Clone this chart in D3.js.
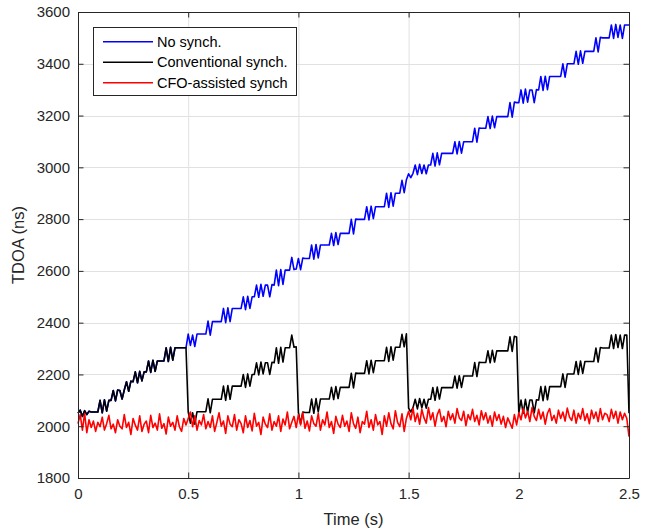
<!DOCTYPE html>
<html>
<head>
<meta charset="utf-8">
<script src="https://cdn.jsdelivr.net/npm/d3@7/dist/d3.min.js"></script>
<style>
  html, body { margin: 0; padding: 0; background: #fff; }
  svg { display: block; }
  text { font-family: "Liberation Sans", Arial, Helvetica, sans-serif; }
</style>
</head>
<body>
<svg id="chart" width="659" height="529"></svg>
<script>
// ---- data (sampled every 0.01 s, t = 0 ... 2.50) ----
const sampleStep = 0.01;

// "No synch." TDOA (ns)
const noSynch = [
  2050, 2062, 2038, 2060, 2045, 2058, 2055, 2055, 2055, 2055,
  2100, 2052, 2102, 2058, 2100, 2100, 2138, 2098, 2140, 2138,
  2105, 2140, 2172, 2135, 2174, 2172, 2210, 2168, 2212, 2175,
  2210, 2210, 2252, 2208, 2255, 2212, 2252, 2252, 2252, 2252,
  2303, 2250, 2305, 2255, 2303, 2303, 2303, 2303, 2303, 2303,
  2356, 2312, 2352, 2308, 2356, 2356, 2356, 2356, 2356, 2406,
  2352, 2404, 2404, 2404, 2404, 2404, 2455, 2400, 2457, 2404,
  2455, 2455, 2455, 2455, 2455, 2500, 2450, 2502, 2455, 2500,
  2500, 2545, 2498, 2548, 2502, 2545, 2545, 2500, 2547, 2545,
  2603, 2543, 2605, 2548, 2603, 2603, 2603, 2652, 2605, 2607,
  2648, 2605, 2650, 2648, 2648, 2648, 2700, 2645, 2702, 2650,
  2700, 2700, 2700, 2700, 2700, 2745, 2698, 2748, 2702, 2745,
  2745, 2745, 2745, 2745, 2799, 2743, 2800, 2799, 2799, 2799,
  2799, 2848, 2797, 2850, 2802, 2848, 2848, 2848, 2848, 2848,
  2900, 2845, 2902, 2850, 2900, 2900, 2900, 2950, 2902, 2952,
  2975, 2960, 2977, 3009, 2972, 3012, 2976, 3009, 2975, 3009,
  3009, 3054, 3005, 3056, 3010, 3054, 3054, 3054, 3054, 3054,
  3054, 3099, 3052, 3100, 3055, 3099, 3099, 3099, 3099, 3099,
  3151, 3097, 3152, 3151, 3151, 3151, 3196, 3150, 3198, 3153,
  3196, 3196, 3196, 3196, 3196, 3196, 3250, 3194, 3252, 3250,
  3250, 3299, 3248, 3302, 3252, 3299, 3299, 3250, 3300, 3299,
  3351, 3297, 3352, 3300, 3351, 3351, 3351, 3351, 3351, 3351,
  3400, 3348, 3400, 3400, 3400, 3400, 3448, 3398, 3450, 3402,
  3448, 3448, 3448, 3448, 3448, 3500, 3446, 3502, 3500, 3500,
  3500, 3500, 3550, 3498, 3552, 3502, 3550, 3498, 3550, 3550,
  3550
];

// Conventional synch: resynchronised every 0.5 s; accumulated offset removed at each resync
const resyncPeriod = 0.5;
const resyncOffsets = [0, 300, 595, 905, 1198, 1500];

// "CFO-assisted synch" TDOA (ns)
const cfoSynch = [
  2010, 2045, 1985, 2050, 1975, 2025, 1995, 2020, 1980, 2015,
  1998, 2035, 1985, 2010, 2042, 1990, 2008, 1975, 2025, 2000,
  1990, 2045, 1995, 2015, 1968, 2030, 2004, 1985, 2040, 1980,
  2008, 2020, 1975, 2042, 1995, 2012, 1985, 2048, 1992, 2010,
  1970, 2035, 2000, 2015, 1985, 2040, 1998, 1980, 2030, 2005,
  2030, 2055, 1998, 2040, 1985, 2022, 2005, 2045, 1990, 2018,
  1995, 2040, 1980, 2015, 2052, 2000, 2020, 1972, 2040, 2008,
  1998, 2045, 1985, 2025, 2010, 1975, 2040, 1995, 2022, 1982,
  2050, 2000, 2015, 1968, 2035, 2008, 1995, 2048, 1985, 2018,
  2000, 2040, 1980, 2028, 2005, 2055, 1990, 2015, 2038, 1995,
  2045, 2005, 2052, 1992, 2020, 1982, 2040, 2010, 2000, 2050,
  1985, 2025, 2005, 2055, 1995, 2018, 1972, 2038, 2008, 1995,
  2042, 2000, 2020, 1980, 2052, 2010, 1992, 2035, 1975, 2018,
  2008, 2058, 1995, 2025, 1985, 2045, 2005, 2018, 1968, 2040,
  2000, 2052, 2010, 1990, 2060, 2015, 1998, 2048, 1980, 2030,
  2058, 2025, 2070, 2018, 2050, 2008, 2065, 2032, 2012, 2072,
  2025, 2052, 2000, 2045, 2065, 2018, 2038, 1998, 2058, 2025,
  2048, 2012, 2068, 2032, 2022, 2058, 2002, 2045, 2025, 2065,
  2018, 2042, 2005, 2060, 2025, 2052, 2012, 2040, 2000, 2055,
  2022, 2045, 2008, 2038, 1995, 2032, 2012, 1992, 2045, 2005,
  2052, 2025, 2068, 2032, 2058, 2018, 2072, 2038, 2022, 2065,
  2028, 2055, 2008, 2050, 2068, 2022, 2042, 2012, 2062, 2030,
  2055, 2020, 2070, 2035, 2022, 2062, 2012, 2050, 2028, 2068,
  2022, 2048, 2010, 2062, 2030, 2055, 2018, 2068, 2025, 2050,
  2045, 2018, 2065, 2030, 2058, 2012, 2055, 2025, 2050, 2030,
  1960
];

const xTicks = [0, 0.5, 1, 1.5, 2, 2.5];
const xTickLabels = ["0", "0.5", "1", "1.5", "2", "2.5"];
const yTicks = [1800, 2000, 2200, 2400, 2600, 2800, 3000, 3200, 3400, 3600];
const yTickLabels = ["1800", "2000", "2200", "2400", "2600", "2800", "3000", "3200", "3400", "3600"];
const seriesNames = ["No synch.", "Conventional synch.", "CFO-assisted synch"];
const seriesColors = ["#0000ff", "#000000", "#ff0000"];
const xLabel = "Time (s)";
const yLabel = "TDOA (ns)";

// ---- build series ----
const times = noSynch.map((_, i) => +(i * sampleStep).toFixed(2));
const convSynch = noSynch.map((v, i) => {
  const seg = Math.floor(times[i] / resyncPeriod + 1e-9);
  return v - resyncOffsets[seg];
});
const series = [noSynch, convSynch, cfoSynch].map(vals => vals.map((v, i) => [times[i], v]));

// ---- layout ----
const L = 78, R = 629, T = 12, B = 478;
const svg = d3.select("#chart");
const x = d3.scaleLinear().domain([0, 2.5]).range([L, R]);
const y = d3.scaleLinear().domain([1800, 3600]).range([B, T]);
const axisColor = "#262626";

// grid
const grid = svg.append("g");
grid.selectAll("line.gx").data(xTicks.slice(1, -1)).enter().append("line")
  .attr("x1", d => x(d) + 0.5).attr("x2", d => x(d) + 0.5)
  .attr("y1", T).attr("y2", B)
  .attr("stroke", "#e1e1e1").attr("stroke-width", 1);
grid.selectAll("line.gy").data(yTicks.slice(1, -1)).enter().append("line")
  .attr("y1", d => Math.round(y(d)) + 0.5).attr("y2", d => Math.round(y(d)) + 0.5)
  .attr("x1", L).attr("x2", R)
  .attr("stroke", "#e1e1e1").attr("stroke-width", 1);

// lines
const lineGen = d3.line().x(d => x(d[0])).y(d => y(d[1]));
const plot = svg.append("g");
series.forEach((s, k) => {
  plot.append("path").datum(s)
    .attr("d", lineGen)
    .attr("fill", "none")
    .attr("stroke", seriesColors[k])
    .attr("stroke-width", 1.6)
    .attr("stroke-linejoin", "round");
});

// axes (ticks inward, box on)
const tickLen = 5.5;
const bottomAxis = d3.axisBottom(x).tickValues(xTicks).tickFormat((d, i) => xTickLabels[i])
  .tickSizeInner(-tickLen).tickSizeOuter(0).tickPadding(10);
const leftAxis = d3.axisLeft(y).tickValues(yTicks).tickFormat((d, i) => yTickLabels[i])
  .tickSizeInner(-tickLen).tickSizeOuter(0).tickPadding(8);
const topAxis = d3.axisTop(x).tickValues(xTicks).tickFormat("").tickSizeInner(-tickLen).tickSizeOuter(0);
const rightAxis = d3.axisRight(y).tickValues(yTicks).tickFormat("").tickSizeInner(-tickLen).tickSizeOuter(0);

function styleAxis(g) {
  g.select(".domain").attr("stroke", axisColor);
  g.selectAll(".tick line").attr("stroke", axisColor);
  g.selectAll(".tick text").attr("fill", axisColor).style("font-size", "15px")
    .style("font-family", '"Liberation Sans", Arial, sans-serif');
}
svg.append("g").attr("transform", `translate(0,${B})`).call(bottomAxis).call(styleAxis);
svg.append("g").attr("transform", `translate(${L},0)`).call(leftAxis).call(styleAxis);
svg.append("g").attr("transform", `translate(0,${T})`).call(topAxis).call(styleAxis);
svg.append("g").attr("transform", `translate(${R},0)`).call(rightAxis).call(styleAxis);

// axis labels
svg.append("text").attr("x", (L + R) / 2).attr("y", 525)
  .attr("text-anchor", "middle").attr("fill", axisColor)
  .style("font-size", "16.5px").text(xLabel);
svg.append("text").attr("transform", `translate(24,${(T + B) / 2}) rotate(-90)`)
  .attr("text-anchor", "middle").attr("fill", axisColor)
  .style("font-size", "16.5px").text(yLabel);

// legend
const leg = svg.append("g");
leg.append("rect").attr("x", 93.5).attr("y", 27.5).attr("width", 203).attr("height", 68)
  .attr("fill", "#fff").attr("stroke", axisColor).attr("stroke-width", 1);
const legY = [41.7, 62.3, 82.7];
seriesNames.forEach((name, k) => {
  leg.append("line").attr("x1", 103).attr("x2", 153).attr("y1", legY[k]).attr("y2", legY[k])
    .attr("stroke", seriesColors[k]).attr("stroke-width", 1.5);
  leg.append("text").attr("x", 157).attr("y", legY[k] + 5)
    .attr("fill", "#000").style("font-size", "14.5px").text(name);
});
</script>
</body>
</html>
